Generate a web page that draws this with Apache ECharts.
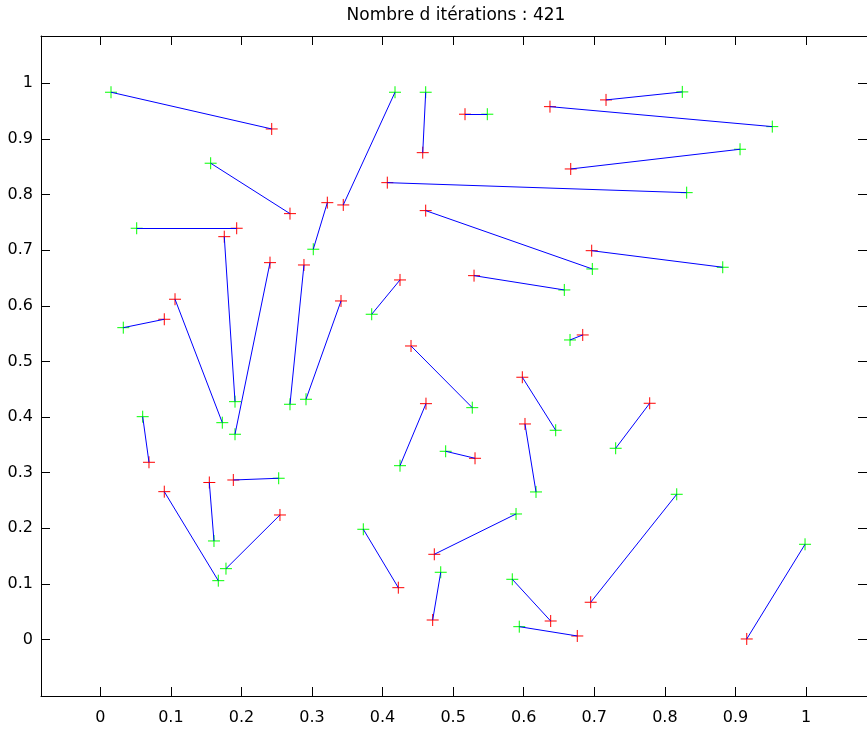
<!DOCTYPE html>
<html>
<head>
    <meta charset="utf-8">
    <title>ECharts</title>
    <script src="https://cdn.jsdelivr.net/npm/echarts@6/dist/echarts.min.js"></script>
    <style>
        html, body { margin: 0; padding: 0; background: #fff; }
    </style>
</head>
<body>
<div id="main" style="width: 867px;height:729px;"></div>
<script type="text/javascript">
    // points verts (depart) et rouges (arrivee), segment i relie vert i et rouge i
    var greenX = [0.0152, 0.1564, 0.0516, 0.1909, 0.1909, 0.2688, 0.3018, 0.4176, 0.2915, 0.1729,
                  0.0326, 0.0601, 0.1672, 0.1611, 0.2528, 0.1781, 0.4611, 0.5484, 0.9522, 0.8247,
                  0.9065, 0.8309, 0.6972, 0.8820, 0.6575, 0.3846, 0.5271, 0.4247, 0.4894, 0.6453,
                  0.6174, 0.6656, 0.7303, 0.5891, 0.3727, 0.4824, 0.5838, 0.5937, 0.8168, 0.9986];
    var greenY = [0.9839, 0.8563, 0.7394, 0.4277, 0.3691, 0.4230, 0.7017, 0.9839, 0.4320, 0.3899,
                  0.5607, 0.4007, 0.1059, 0.1773, 0.2900, 0.1275, 0.9839, 0.9444, 0.9221, 0.9845,
                  0.8814, 0.8034, 0.6662, 0.6693, 0.6285, 0.5848, 0.4169, 0.3126, 0.3385, 0.3763,
                  0.2654, 0.5386, 0.3439, 0.2258, 0.1983, 0.1210, 0.1084, 0.0232, 0.2612, 0.1713];
    var redX = [0.2429, 0.2688, 0.1933, 0.1757, 0.2405, 0.2886, 0.3217, 0.3443, 0.3411, 0.1059,
                0.0907, 0.0690, 0.0907, 0.1545, 0.1885, 0.2546, 0.4569, 0.5168, 0.6372, 0.7166,
                0.6666, 0.4067, 0.4611, 0.6963, 0.5296, 0.4247, 0.4403, 0.4615, 0.5310, 0.5980,
                0.6018, 0.6836, 0.7785, 0.4733, 0.4223, 0.4710, 0.6382, 0.6759, 0.6949, 0.9160];
    var redY = [0.9179, 0.7657, 0.7394, 0.7243, 0.6776, 0.6734, 0.7854, 0.7813, 0.6087, 0.6118,
                0.5758, 0.3187, 0.2659, 0.2824, 0.2869, 0.2240, 0.8753, 0.9444, 0.9580, 0.9701,
                0.8460, 0.8214, 0.7711, 0.6991, 0.6542, 0.6465, 0.5278, 0.4241, 0.3259, 0.4716,
                0.3876, 0.5476, 0.4248, 0.1533, 0.0933, 0.0352, 0.0334, 0.0065, 0.0671, 0.0011];

    var tickValues = [0, 0.1, 0.2, 0.3, 0.4, 0.5, 0.6, 0.7, 0.8, 0.9, 1];
    var tickLabels = ['0', '0.1', '0.2', '0.3', '0.4', '0.5', '0.6', '0.7', '0.8', '0.9', '1'];
    var titre = 'Nombre d itérations : 421';

    var segs = [], greens = [], reds = [];
    for (var i = 0; i < greenX.length; i++) {
        segs.push({coords: [[greenX[i], greenY[i]], [redX[i], redY[i]]]});
        greens.push([greenX[i], greenY[i]]);
        reds.push([redX[i], redY[i]]);
    }

    function lbl(v) {
        var k = tickValues.indexOf(Math.round(v * 10) / 10);
        return k >= 0 ? tickLabels[k] : '';
    }

    var plus = 'path://M5,0L5,10M0,5L10,5';
    var font = 'DejaVu Sans';
    var xMin = -0.084, xMax = 1.0864, yMin = -0.1014, yMax = 1.085;

    function axe(pos, showLabel, isX) {
        return {
            type: 'value',
            position: pos,
            min: isX ? xMin : yMin,
            max: isX ? xMax : yMax,
            splitLine: {show: false},
            axisLine: {show: true, onZero: false, lineStyle: {color: '#000', width: 1}},
            axisTick: {show: true, inside: true, length: 9, customValues: tickValues,
                       lineStyle: {color: '#000', width: 1}},
            axisLabel: {show: showLabel, customValues: tickValues, formatter: lbl,
                        color: '#000', fontSize: 16, fontFamily: font,
                        margin: isX ? 14 : 8}
        };
    }

    var myChart = echarts.init(document.getElementById('main'));
    var option = {
        animation: false,
        backgroundColor: '#fff',
        title: {
            text: titre,
            left: 456,
            top: 7,
            padding: 0,
            textAlign: 'center',
            textStyle: {color: '#000', fontSize: 17, fontWeight: 'normal', fontFamily: font}
        },
        grid: {left: 41, right: 0, top: 36, bottom: 33, outerBoundsMode: 'none'},
        xAxis: [axe('bottom', true, true), axe('top', false, true)],
        yAxis: [axe('left', true, false), axe('right', false, false)],
        series: [
            {
                type: 'scatter',
                data: greens,
                symbol: plus,
                symbolSize: 12,
                itemStyle: {color: 'transparent', borderColor: '#00ff00', borderWidth: 1, opacity: 1},
                z: 2
            },
            {
                type: 'scatter',
                data: reds,
                symbol: plus,
                symbolSize: 12,
                itemStyle: {color: 'transparent', borderColor: '#ff0000', borderWidth: 1, opacity: 1},
                z: 2
            },
            {
                type: 'lines',
                coordinateSystem: 'cartesian2d',
                data: segs,
                lineStyle: {color: '#0000ff', width: 1, opacity: 1, curveness: 0},
                z: 3
            }
        ]
    };
    myChart.setOption(option);
</script>
</body>
</html>
